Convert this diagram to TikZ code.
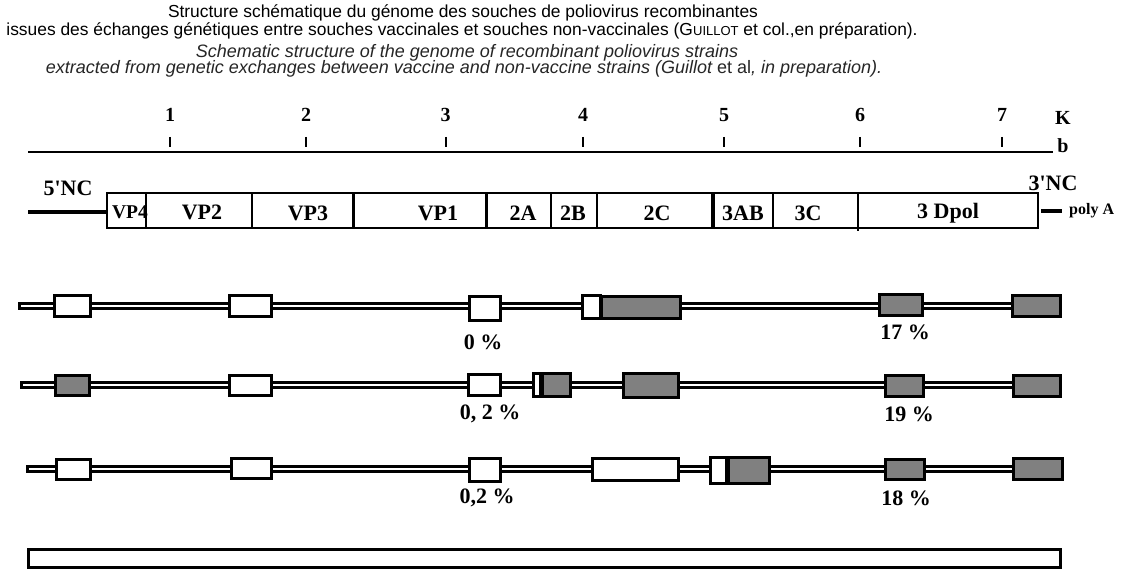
\documentclass[tikz,border=0pt]{standalone}
\usepackage{fontspec}
\usepackage{graphicx}
\setmainfont{Liberation Serif}[Ligatures=TeXOff]
\newfontfamily\sansf{Liberation Sans}
\usetikzlibrary{backgrounds}
\definecolor{boxgray}{HTML}{808080}
% name, style, x1, x2, y, h
\newcommand\segbox[6]{\node[#2, minimum width={(#4-#3-3)*1pt}, minimum height={(#6-3)*1pt}] (#1) at ({(#3+#4)/2},#5) {};}
\tikzset{
  wbox/.style={draw, fill=white, line width=3pt, inner sep=0pt, outer sep=0pt, rectangle},
  gbox/.style={wbox, fill=boxgray},
  rail/.style={draw=black, double=white, double distance=2.7pt, line width=2.5pt, line cap=rect},
  lab/.style={font=\fontsize{22}{24}\selectfont\bfseries, inner sep=0pt},
  num/.style={font=\fontsize{20}{22}\selectfont\bfseries, inner sep=0pt},
  pct/.style={font=\fontsize{22}{24}\selectfont\bfseries, inner sep=0pt},
  ttl/.style={font=\sansf\fontsize{17.4}{19}\selectfont, inner sep=0pt},
  itl/.style={font=\sansf\itshape\fontsize{18}{19}\selectfont, inner sep=0pt, text=black!85},
  tick/.style={line width=2pt},
  divthin/.style={line width=1.5pt},
  divthick/.style={line width=3pt}
}
\begin{document}
\begin{tikzpicture}[x=1pt,y=-1pt]
\begin{pgfonlayer}{background}
\fill[white] (0,0) rectangle (1146,572);
\end{pgfonlayer}
\useasboundingbox (0,0) rectangle (1146,572);

% titles
\node[ttl] (t1) at (463,13) {Structure schématique du génome des souches de poliovirus recombinantes};
\node[ttl] (t2) at (462,31) {issues des échanges génétiques entre souches vaccinales et souches non-vaccinales (G{\fontsize{13}{13}\selectfont UILLOT} et col.,en préparation).};
\node[itl] (t3) at (467,53) {Schematic structure of the genome of recombinant poliovirus strains};
\node[itl] (t4) at (464,69) {extracted from genetic exchanges between vaccine and non-vaccine strains (Guillot {\upshape et al}, in preparation).};

% scale
\coordinate (s0) at (28,152);
\coordinate (s1) at (1053,152);
\draw[line width=2pt] (s0) -- (s1);
\foreach \i/\x in {1/170,2/306,3/445.5,4/583,5/724,6/860,7/1002}{
  \draw[tick] (\x,137) -- (\x,147);
  \node[num] (n\i) at (\x,115) {\i};
}
\node[num] (kk) at (1063,118) {K};
\node[num] (bb) at (1063,146) {b};

% genome map
\node[lab] (nc5) at (68,188) {5'NC};
\coordinate (l5) at (28,212);
\node[draw, line width=1.5pt, minimum width=931pt, minimum height=35pt, inner sep=0pt, outer sep=0pt] (gen) at (572.5,210.5) {};
\draw[line width=4pt] (l5) -- (gen.west |- l5);
\draw[divthin] (146,193) -- (146,228);
\draw[line width=2pt] (252,193) -- (252,228);
\draw[divthick] (353,193) -- (353,228);
\draw[divthick] (486,193) -- (486,228);
\draw[line width=2pt] (551,193) -- (551,228);
\draw[line width=2.5pt] (597,193) -- (597,228);
\draw[line width=4pt] (713,193) -- (713,228);
\draw[line width=2.5pt] (773,193) -- (773,228);
\draw[divthin] (858,193) -- (858,231);
\node[lab, font=\fontsize{19.5}{20}\selectfont\bfseries] (vp4) at (130,212) {VP4};
\node[lab] (vp2) at (202,212) {VP2};
\node[lab] (vp3) at (308,213) {VP3};
\node[lab] (vp1) at (438,213) {VP1};
\node[lab] (p2a) at (523,213) {2A};
\node[lab] (p2b) at (573,213) {2B};
\node[lab] (p2c) at (657,213) {2C};
\node[lab] (p3ab) at (743,213) {3AB};
\node[lab] (p3c) at (808,213) {3C};
\node[lab] (p3d) at (948,213) {3 Dpol};
\node[lab] (nc3) at (1053,183) {3'NC};
\coordinate (pa) at (1062,211);
\draw[line width=4pt] (gen.east |- pa) ++(3,0) -- (pa);
\node[lab, font=\fontsize{16}{18}\selectfont\bfseries, anchor=west] (polya) at (1069,211) {poly A};

% strain 1
\coordinate (r1s) at (22,306);
\segbox{r1a}{wbox}{53}{92}{306}{24}
\segbox{r1b}{wbox}{228}{273}{306}{24}
\segbox{r1c}{wbox}{468}{502}{308}{27}
\segbox{r1d}{wbox}{581}{602}{307}{26}
\segbox{r1e}{gbox}{600}{682}{307}{25}
\segbox{r1f}{gbox}{878}{924}{305}{24}
\segbox{r1g}{gbox}{1011}{1062}{306}{24}
\node[pct] (p1a) at (483,342) {0 \%};
\node[pct] (p1b) at (905,332) {17 \%};

% strain 2
\coordinate (r2s) at (24,385);
\segbox{r2a}{gbox}{54}{91}{385}{23}
\segbox{r2b}{wbox}{228}{273}{385}{23}
\segbox{r2c}{wbox}{467}{502}{385}{24}
\segbox{r2d}{wbox}{532}{542}{385}{26}
\segbox{r2e}{gbox}{541}{572}{385}{26}
\segbox{r2f}{gbox}{622}{680}{385}{27}
\segbox{r2g}{gbox}{884}{925}{386}{24}
\segbox{r2h}{gbox}{1012}{1062}{386}{24}
\node[pct] (p2a) at (490,414) {0, 2 \%};
\node[pct] (p2b) at (909,414) {19 \%};

% strain 3
\coordinate (r3s) at (30,469);
\segbox{r3a}{wbox}{55}{92}{469}{23}
\segbox{r3b}{wbox}{230}{273}{468}{23}
\segbox{r3c}{wbox}{468}{502}{470}{26}
\segbox{r3d}{wbox}{591}{680}{469}{25}
\segbox{r3e}{wbox}{709}{728}{470}{29}
\segbox{r3f}{gbox}{727}{771}{470}{29}
\segbox{r3g}{gbox}{884}{926}{469}{23}
\segbox{r3h}{gbox}{1012}{1064}{469}{24}
\node[pct] (p3a) at (487,498) {0,2 \%};
\node[pct] (p3b) at (906,498) {18 \%};

% bottom bar
\segbox{bar}{wbox}{27}{1062}{558}{21}

\begin{pgfonlayer}{background}
\draw[rail] (r1s) -- (r1a.west |- r1s);
\draw[rail] (r1a.east |- r1s) -- (r1b.west |- r1s);
\draw[rail] (r1b.east |- r1s) -- (r1c.west |- r1s);
\draw[rail] (r1c.east |- r1s) -- (r1d.west |- r1s);
\draw[rail] (r1e.east |- r1s) -- (r1f.west |- r1s);
\draw[rail] (r1f.east |- r1s) -- (r1g.west |- r1s);
\draw[rail] (r2s) -- (r2a.west |- r2s);
\draw[rail] (r2a.east |- r2s) -- (r2b.west |- r2s);
\draw[rail] (r2b.east |- r2s) -- (r2c.west |- r2s);
\draw[rail] (r2c.east |- r2s) -- (r2d.west |- r2s);
\draw[rail] (r2e.east |- r2s) -- (r2f.west |- r2s);
\draw[rail] (r2f.east |- r2s) -- (r2g.west |- r2s);
\draw[rail] (r2g.east |- r2s) -- (r2h.west |- r2s);
\draw[rail] (r3s) -- (r3a.west |- r3s);
\draw[rail] (r3a.east |- r3s) -- (r3b.west |- r3s);
\draw[rail] (r3b.east |- r3s) -- (r3c.west |- r3s);
\draw[rail] (r3c.east |- r3s) -- (r3d.west |- r3s);
\draw[rail] (r3d.east |- r3s) -- (r3e.west |- r3s);
\draw[rail] (r3f.east |- r3s) -- (r3g.west |- r3s);
\draw[rail] (r3g.east |- r3s) -- (r3h.west |- r3s);
\end{pgfonlayer}
\end{tikzpicture}
\end{document}
